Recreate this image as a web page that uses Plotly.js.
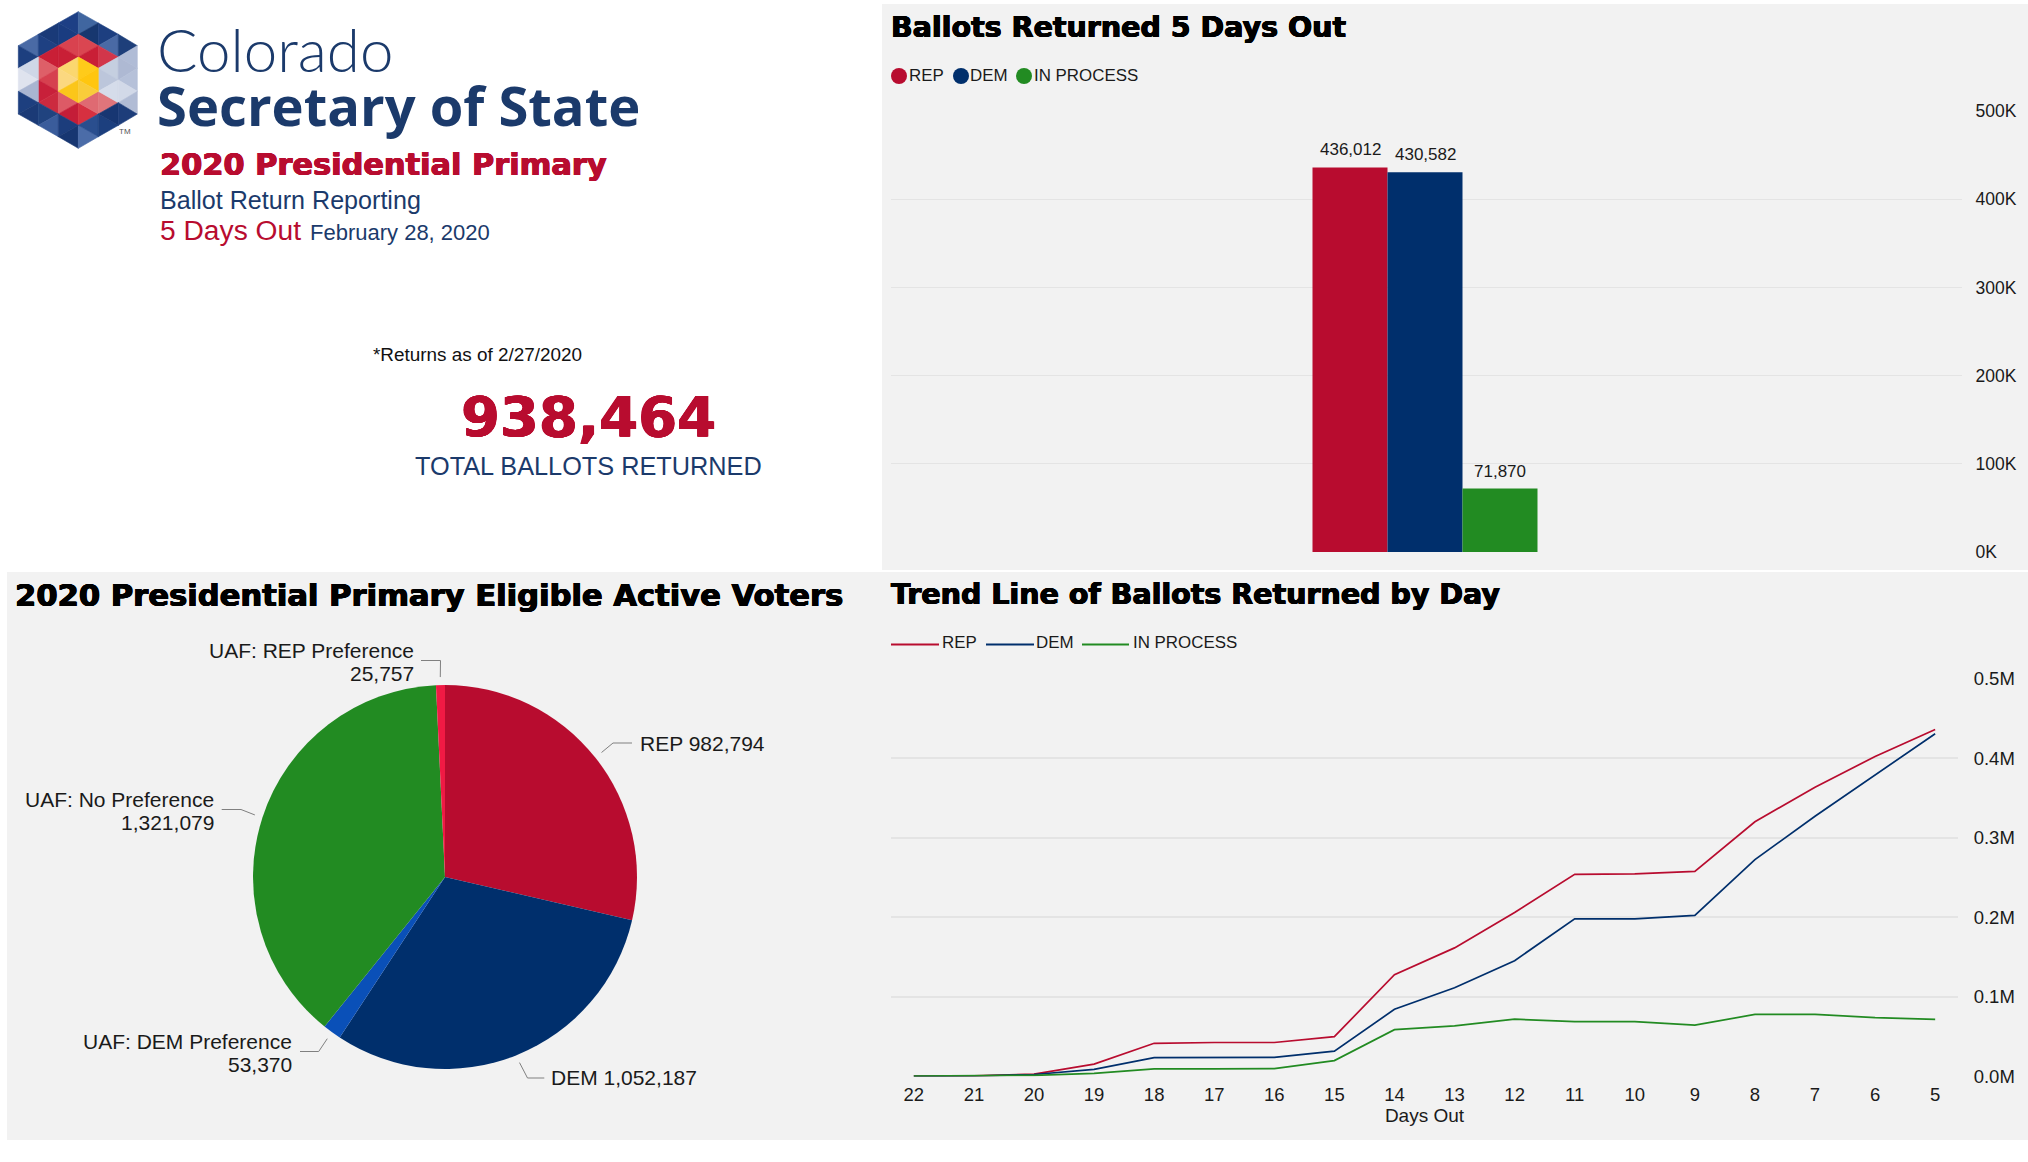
<!DOCTYPE html>
<html><head><meta charset="utf-8">
<script src="https://cdn.plot.ly/plotly-3.0.1.min.js"></script>
<style>html,body{margin:0;padding:0;background:#fff}#c{width:2028px;height:1162px}</style>
</head><body><div id="c"></div>
<script>
// ---------- data ----------
const barCategories = ['REP','DEM','IN PROCESS'];
const barValues = [436012,430582,71870];
const barTickVals = [0,100000,200000,300000,400000,500000];
const barTickText = ['0K','100K','200K','300K','400K','500K'];

const pieLabels = ['REP','DEM','UAF: DEM Preference','UAF: No Preference','UAF: REP Preference'];
const pieValues = [982794,1052187,53370,1321079,25757];

const daysOut = ['22','21','20','19','18','17','16','15','14','13','12','11','10','9','8','7','6','5'];
const repTrend = [500,800,3000,15500,41700,42700,42700,50000,128000,161600,206000,254000,254500,257800,320000,363500,402000,436012];
const demTrend = [300,600,2500,9000,23700,24000,24000,31800,84400,111400,145500,198000,198000,202400,272500,327000,379000,430582];
const procTrend = [500,600,1500,4000,9500,9500,10000,20000,58800,63500,72000,69000,69000,64500,78000,78000,74000,71870];
const lineTickVals = [0,100000,200000,300000,400000,500000];
const lineTickText = ['0.0M','0.1M','0.2M','0.3M','0.4M','0.5M'];

// ---------- style ----------
const W=2028,H=1162;
const RED='#b80c2f',NAVY='#002f6c',GREEN='#228b22',NAVYTXT='#1b3a6b';
const PANEL='#f2f2f2',GRID='#e4e4e4',INK='#1a1a1a';
const pieColors=[RED,NAVY,'#0a50b8',GREEN,'#f01a44'];
const seriesColors=[RED,NAVY,GREEN];
const SANS='"Liberation Sans",Arial,sans-serif',HEAVY='"DejaVu Sans",sans-serif';
const fat=c=>`0.6px 0 0 ${c}, -0.6px 0 0 ${c}, 0 0.4px 0 ${c}, 0 -0.4px 0 ${c}`;
const fx=x=>x/W, fy=y=>1-y/H;

const ann=[],shp=[];
function txt(text,x,base,size,opt={}){
  const font={family:opt.family||SANS,size,color:opt.color||INK,weight:opt.weight||400};
  if(opt.shadow) font.shadow=opt.shadow;
  ann.push({text,xref:'paper',yref:'paper',x:fx(x),y:fy(base-0.35*size),xanchor:opt.anchor||'left',yanchor:'middle',
    showarrow:false,borderpad:0,borderwidth:0,font});
}
function rect(x0,y0,x1,y1,c){shp.push({type:'rect',xref:'paper',yref:'paper',x0:fx(x0),x1:fx(x1),y0:fy(y0),y1:fy(y1),fillcolor:c,line:{width:0},layer:'below'});}

// panels
rect(882,4,2028,570,PANEL);
rect(882,572,2028,1140,PANEL);
rect(7,572,883,1140,PANEL);

// ---------- logo ----------
const lx=v=>v/3+10, ly=v=>v/3+5;
const tris=[
[25,122,85,88,85,156,'#4a6aa5'],[25,122,85,156,25,190,'#1d3f7f'],[85,88,145,54,145,122,'#1a3a78'],[85,88,145,122,85,156,'#1e4082'],
[145,54,205,20,205,88,'#1d3f85'],[145,54,205,88,145,122,'#1a3c80'],[205,20,265,54,205,88,'#4066a0'],[205,88,265,54,265,122,'#17376f'],
[265,54,325,88,265,122,'#1d3f80'],[325,88,265,122,325,156,'#4a6aa5'],[325,88,382,122,325,156,'#1e3f7a'],
[145,122,205,88,205,156,'#d9424f'],[205,88,265,122,205,156,'#da4651'],[85,156,145,122,145,190,'#c91f36'],[145,122,205,156,145,190,'#c91f36'],
[205,156,265,122,265,190,'#c91f36'],[265,122,325,156,265,190,'#d2364a'],[85,156,145,190,85,225,'#de5f68'],[85,225,145,190,145,259,'#d6404f'],
[85,225,145,259,85,293,'#c8203a'],[85,293,145,259,145,327,'#cc2a3f'],[145,259,205,293,145,327,'#dd5a66'],[145,327,205,293,205,361,'#c41d38'],
[205,293,265,327,205,361,'#d63040'],[205,293,265,259,265,327,'#df6a72'],[265,259,325,293,265,327,'#e0757b'],
[265,190,325,156,325,225,'#c5cfe0'],[325,156,382,122,382,190,'#b0bcd6'],[325,156,382,190,325,225,'#aeb9d3'],[325,225,382,190,382,259,'#b6c1d9'],
[265,190,325,225,265,259,'#bcc6db'],[265,259,325,225,325,293,'#d5dcea'],[325,225,382,259,325,293,'#d2d9e8'],[325,293,382,259,382,325,'#b1bcd5'],
[25,190,85,156,85,225,'#cfd7e7'],[25,190,85,225,25,259,'#dfe3ee'],[25,259,85,225,85,293,'#a9b5d1'],
[25,259,85,293,25,327,'#1d3f7f'],[25,327,85,293,85,361,'#1b3a76'],[85,293,145,327,85,361,'#20437f'],[85,361,145,327,145,395,'#3a5c9b'],
[145,327,205,361,145,395,'#1c3d7c'],[145,395,205,361,205,430,'#173671'],[205,361,265,395,205,430,'#4b6ca8'],[205,361,265,327,265,395,'#2a4e8e'],
[265,327,325,361,265,395,'#1c3f7e'],[265,327,325,293,325,361,'#173672'],[325,293,382,327,325,361,'#1d3d7a'],
[145,190,205,156,205,225,'#fbd76f'],[205,156,265,190,205,225,'#ffcb1a'],[145,190,205,225,145,259,'#fbd880'],[205,225,265,190,265,259,'#ffc60f'],
[145,259,205,225,205,293,'#fbc61a'],[205,225,265,259,205,293,'#f9cc3a']];
tris.forEach(t=>{
  const p=`M${fx(lx(t[0]))},${fy(ly(t[1]))}L${fx(lx(t[2]))},${fy(ly(t[3]))}L${fx(lx(t[4]))},${fy(ly(t[5]))}Z`;
  shp.push({type:'path',xref:'paper',yref:'paper',path:p,fillcolor:t[6],line:{color:t[6],width:0.6},layer:'below'});
});
txt('TM',125,134,8,{anchor:'center',color:'#555'});

// ---------- header text ----------
txt('Colorado',157,70,60,{family:'Lato,"Open Sans",sans-serif',weight:300,color:NAVYTXT});
txt('Secretary of State',157,124,54.3,{family:'"Open Sans",sans-serif',weight:700,color:NAVYTXT});
txt('2020 Presidential Primary',160,175,30.4,{family:HEAVY,weight:700,color:RED,shadow:fat(RED)});
txt('Ballot Return Reporting',160,209,25.1,{color:NAVYTXT});
txt('5 Days Out',160,240,28.2,{color:RED});
txt('February 28, 2020',310,240,22,{color:NAVYTXT});
txt('*Returns as of 2/27/2020',373,361,18.9,{color:'#111'});
txt('938,464',588,436,56,{family:HEAVY,weight:700,color:RED,anchor:'center',shadow:fat(RED)});
txt('TOTAL BALLOTS RETURNED',588.5,475,25.3,{color:NAVYTXT,anchor:'center'});

// ---------- panel titles ----------
txt('Ballots Returned 5 Days Out',891,37,28.5,{family:HEAVY,weight:700,color:'#000',shadow:fat('#000')});
txt('Trend Line of Ballots Returned by Day',891,604.5,28.5,{family:HEAVY,weight:700,color:'#000',shadow:fat('#000')});
txt('2020 Presidential Primary Eligible Active Voters',15,606,30.6,{family:HEAVY,weight:700,color:'#000',shadow:fat('#000')});

// ---------- custom legends ----------
const dotX=[899,961,1024], dotTextX=[909,970,1034];
barCategories.forEach((c,i)=>{
  shp.push({type:'circle',xref:'paper',yref:'paper',x0:fx(dotX[i]-8),x1:fx(dotX[i]+8),y0:fy(68),y1:fy(84),fillcolor:seriesColors[i],line:{width:0}});
  txt(c,dotTextX[i],81.5,16.9);
});
const keyX=[[891,939],[986,1034],[1082,1129]], keyTextX=[942,1036,1133];
barCategories.forEach((c,i)=>{
  shp.push({type:'line',xref:'paper',yref:'paper',x0:fx(keyX[i][0]),x1:fx(keyX[i][1]),y0:fy(644.5),y1:fy(644.5),line:{color:seriesColors[i],width:2}});
  txt(c,keyTextX[i],648.5,16.9);
});

// ---------- bar value labels ----------
barValues.forEach((v,i)=>{
  ann.push({xref:'x',yref:'y',x:i-1,y:v,text:v.toLocaleString('en-US'),showarrow:false,yanchor:'bottom',xanchor:'center',yshift:7,borderpad:0,
    font:{family:SANS,size:17,color:INK}});
});

// ---------- pie labels with leader lines ----------
const pc={x:445,y:877,r:192};
const pieTotal=pieValues.reduce((a,b)=>a+b,0);
let acc=0;
const pieMid=pieValues.map(v=>{const m=(acc+v/2)/pieTotal*2*Math.PI;acc+=v;return m;});
const elbows=[
 {e:[613,743],end:[632,743],lines:['REP '+pieValues[0].toLocaleString('en-US')],tx:640,bases:[750.5],a:'left'},
 {e:[527.5,1078],end:[544.3,1078],lines:['DEM '+pieValues[1].toLocaleString('en-US')],tx:550.5,bases:[1085],a:'left'},
 {e:[318.7,1051.5],end:[300,1051.5],lines:[pieLabels[2],pieValues[2].toLocaleString('en-US')],tx:292,bases:[1048.5,1071.5],a:'right'},
 {e:[241,809.5],end:[221.7,809.5],lines:[pieLabels[3],pieValues[3].toLocaleString('en-US')],tx:214,bases:[806.5,829.5],a:'right'},
 {e:[440.5,660.5],end:[421,660.5],lines:[pieLabels[4],pieValues[4].toLocaleString('en-US')],tx:414,bases:[657.5,680.5],a:'right'}];
elbows.forEach((l,i)=>{
  const sx=pc.x+(pc.r+8)*Math.sin(pieMid[i]), sy=pc.y-(pc.r+8)*Math.cos(pieMid[i]);
  shp.push({type:'path',xref:'paper',yref:'paper',path:`M${fx(sx)},${fy(sy)}L${fx(l.e[0])},${fy(l.e[1])}L${fx(l.end[0])},${fy(l.end[1])}`,line:{color:'#808080',width:1}});
  l.lines.forEach((t,j)=>txt(t,l.tx,l.bases[j],21,{anchor:l.a}));
});

// ---------- traces ----------
const traces=[];
barCategories.forEach((c,i)=>traces.push({type:'bar',name:c,x:[i-1],y:[barValues[i]],width:[1],marker:{color:seriesColors[i]},xaxis:'x',yaxis:'y',hoverinfo:'name+y'}));
traces.push({type:'pie',labels:pieLabels,values:pieValues,sort:false,direction:'clockwise',rotation:0,textinfo:'none',
  marker:{colors:pieColors,line:{width:0}},domain:{x:[fx(pc.x-pc.r),fx(pc.x+pc.r)],y:[fy(pc.y+pc.r),fy(pc.y-pc.r)]},showlegend:false});
[repTrend,demTrend,procTrend].forEach((ys,i)=>traces.push({type:'scatter',mode:'lines',name:barCategories[i],x:daysOut,y:ys,
  line:{color:seriesColors[i],width:1.7},xaxis:'x2',yaxis:'y2'}));

const layout={
  width:W,height:H,margin:{l:0,r:0,t:0,b:0,pad:0},paper_bgcolor:'#fff',plot_bgcolor:'rgba(0,0,0,0)',showlegend:false,
  hovermode:false,
  xaxis:{domain:[fx(891),fx(1962)],range:[-7.12,7.16],showticklabels:false,showgrid:false,zeroline:false,ticks:'',anchor:'y'},
  yaxis:{domain:[fy(552),fy(111)],range:[0,500000],side:'right',anchor:'x',tickmode:'array',tickvals:barTickVals,ticktext:barTickText,
    showgrid:true,gridcolor:GRID,gridwidth:1.3,zeroline:false,ticks:'outside',ticklen:9,tickcolor:'rgba(0,0,0,0)',showline:false,
    tickfont:{family:SANS,size:17.5,color:INK}},
  xaxis2:{domain:[fx(891),fx(1958)],type:'category',categoryorder:'array',categoryarray:daysOut,range:[-0.38,17.38],anchor:'y2',
    showgrid:false,zeroline:false,ticks:'outside',ticklen:1,tickcolor:'rgba(0,0,0,0)',tickfont:{family:SANS,size:18.5,color:INK},
    title:{text:'Days Out',standoff:0,font:{family:SANS,size:19,color:INK}},tickangle:0},
  yaxis2:{domain:[fy(1076.5),fy(678.5)],range:[0,500000],side:'right',anchor:'x2',tickmode:'array',tickvals:lineTickVals,ticktext:lineTickText,
    showgrid:true,gridcolor:GRID,gridwidth:1.8,zeroline:false,ticks:'outside',ticklen:11,tickcolor:'rgba(0,0,0,0)',
    tickfont:{family:SANS,size:18.5,color:INK}},
  shapes:shp,annotations:ann
};
Plotly.newPlot('c',traces,layout,{staticPlot:true,displayModeBar:false});
</script></body></html>
